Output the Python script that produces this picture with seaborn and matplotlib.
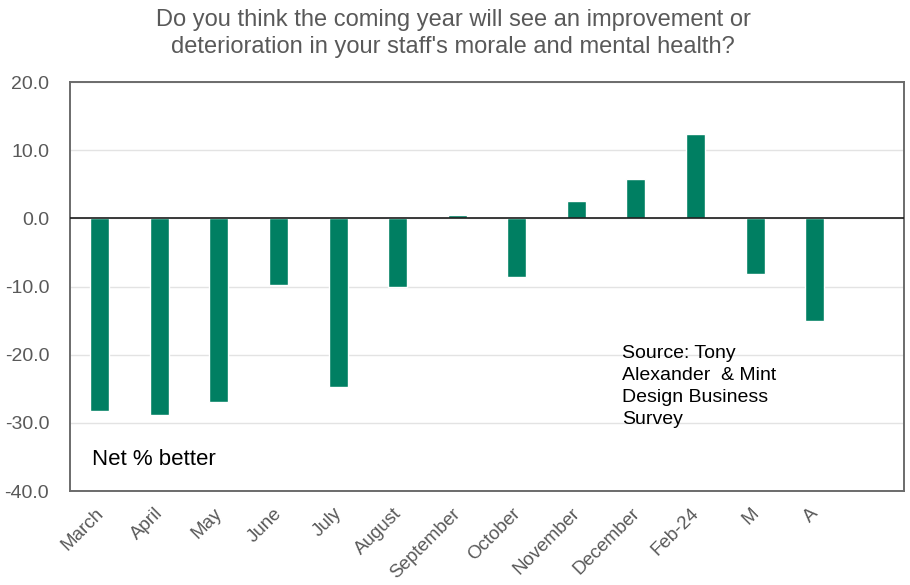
import matplotlib
matplotlib.use("Agg")
import matplotlib.pyplot as plt
import matplotlib.transforms as mtransforms
import seaborn as sns
import pandas as pd

months = ["March", "April", "May", "June", "July", "August", "September",
          "October", "November", "December", "Feb-24", "M", "A"]
net_better = [-28.2, -28.8, -26.9, -9.8, -24.8, -10.1, 0.5,
              -8.6, 2.5, 5.8, 12.4, -8.2, -15.1]
y_ticks = [20.0, 10.0, 0.0, -10.0, -20.0, -30.0, -40.0]

title = ("Do you think the coming year will see an improvement or\n"
         "deterioration in your staff's morale and mental health?")
source_note = "Source: Tony\nAlexander  & Mint\nDesign Business\nSurvey"
series_note = "Net % better"

df = pd.DataFrame({"month": months, "net": net_better})

sns.set_theme(style="white")
plt.rcParams["font.family"] = ["Liberation Sans", "DejaVu Sans"]

bar_color = "#007F62"
grey_text = "#595959"

fig = plt.figure(figsize=(9.1, 5.85), dpi=100)
ax = fig.add_axes([70 / 910, 1 - 491 / 585, (904 - 70) / 910, (491 - 82) / 585])

sns.barplot(data=df, x="month", y="net", order=months, color=bar_color,
            width=0.32, saturation=1, ax=ax, zorder=3)

ax.set_xlim(-0.5, len(months) + 0.5)
ax.set_ylim(-40, 20)
ax.set_yticks(y_ticks)
ax.set_yticklabels([f"{v:.1f}" for v in y_ticks], color=grey_text, fontsize=14)
ax.set_xticks(range(len(months)))
ax.set_xticklabels(months, rotation=45, ha="right", color=grey_text, fontsize=13.5)
ax.tick_params(axis="x", length=0, pad=10)
ax.tick_params(axis="y", length=0, pad=15)
ax.set_xlabel("")
ax.set_ylabel("")

# nudge the slanted month labels a little to the right of each tick
shift = mtransforms.ScaledTranslation(7 / 100, 0, fig.dpi_scale_trans)
for lbl in ax.get_xticklabels():
    lbl.set_transform(lbl.get_transform() + shift)

ax.grid(axis="y", color="#e3e3e3", linewidth=1.0, zorder=0)
ax.grid(axis="x", visible=False)
ax.axhline(0, color="#1a1a1a", linewidth=1.2, zorder=4)
for sp in ax.spines.values():
    sp.set_visible(True)
    sp.set_color("#6b6b6b")
    sp.set_linewidth(1.4)

fig.text(453 / 910, 1 - 9 / 585, title, ha="center", va="top",
         fontsize=17, color=grey_text, linespacing=1.28)
fig.text(92 / 910, 1 - 465 / 585, series_note, ha="left", va="baseline",
         fontsize=16, color="black")
fig.text(622 / 910, 1 - 345 / 585, source_note, ha="left", va="top",
         fontsize=14, color="black", linespacing=1.38)

fig.savefig("out.png", dpi=100)
